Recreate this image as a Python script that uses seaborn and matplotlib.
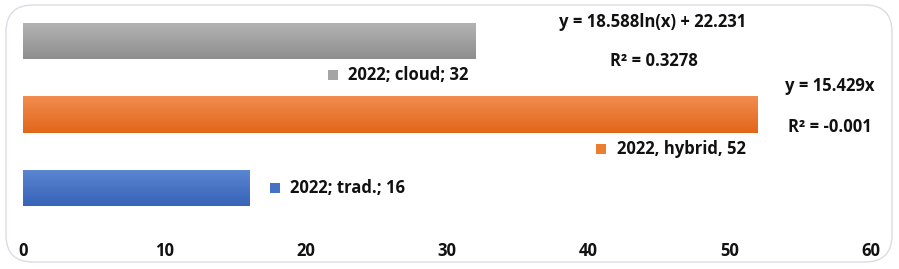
import numpy as np
import pandas as pd
import seaborn as sns
import matplotlib
matplotlib.use("Agg")
import matplotlib.pyplot as plt
from matplotlib.patches import FancyBboxPatch
from matplotlib.colors import LinearSegmentedColormap

categories = ["cloud", "hybrid", "trad."]
values = [32, 52, 16]
labels = ["2022; cloud; 32", "2022, hybrid, 52", "2022; trad.; 16"]
xticks = [0, 10, 20, 30, 40, 50, 60]
trend_texts = ["y = 18.588ln(x) + 22.231", "R² = 0.3278", "y = 15.429x", "R² = -0.001"]

colors = {"cloud": "#a5a5a5", "hybrid": "#ed7d31", "trad.": "#4472c4"}
grad = {"cloud": ("#b4b4b4", "#8e8e8e"),
        "hybrid": ("#f28c4f", "#e2661a"),
        "trad.": ("#5b87d2", "#3863b8")}

sns.set_theme(style="white")
plt.rcParams['font.family'] = ['Open Sans', 'DejaVu Sans']
FS = 12.0

df = pd.DataFrame({"category": categories, "value": values})

fig = plt.figure(figsize=(8.99, 2.69), dpi=100)
W, H = 899, 269
ax = fig.add_axes([23 / W, 1 - 225 / H, 848 / W, 221 / H])

sns.barplot(data=df, x="value", y="category", hue="category", palette=colors,
            order=categories, width=0.49, ax=ax, legend=False, edgecolor="none")

# gradients on bars
for patch, cat in zip(ax.patches, categories):
    x0, y0 = patch.get_x(), patch.get_y()
    w, h = patch.get_width(), patch.get_height()
    cmap = LinearSegmentedColormap.from_list("g", [grad[cat][0], grad[cat][1]])
    g = np.linspace(0, 1, 64).reshape(-1, 1)
    im = ax.imshow(g, cmap=cmap, aspect="auto", extent=[x0, x0 + w, y0 + h, y0],
                   origin="upper", zorder=patch.get_zorder() + 0.1)
    im.set_clip_path(patch)

ax.set_xlim(0, 60)
ax.set_ylim(2.5, -0.5)
ax.set_xticks(xticks)
ax.set_xticklabels([str(t) for t in xticks], fontsize=FS, fontweight="bold", color="#111111")
ax.tick_params(axis="x", length=0, pad=12)
ax.set_yticks([])
ax.set_xlabel("")
ax.set_ylabel("")
for s in ax.spines.values():
    s.set_visible(False)

# data labels: marker x and y offset from the category position
label_pos = {"cloud": (21.9, 0.46), "hybrid": (40.9, 0.47), "trad.": (17.8, 0.0)}
for i, (cat, lab) in enumerate(zip(categories, labels)):
    lx, dy = label_pos[cat]
    ly = i + dy
    ax.scatter([lx], [ly], marker="s", s=45, color=colors[cat], zorder=5, linewidths=0)
    ax.text(lx + 1.1, ly, lab, fontsize=FS, fontweight="bold", color="#111111",
            va="center", ha="left", zorder=5)

# trendline labels
tpos = [(653, 22), (654, 61), (830, 86), (830, 127)]
for t, (px, py) in zip(trend_texts, tpos):
    fig.text(px / W, 1 - py / H, t, fontsize=FS, fontweight="bold", color="#111111",
             ha="center", va="center")

frame = FancyBboxPatch((6 / W, 1 - 262 / H), 886 / W, 257 / H,
                       boxstyle="round,pad=0,rounding_size=0.03",
                       transform=fig.transFigure, fill=False,
                       edgecolor="#d9dde3", linewidth=1.0, mutation_aspect=W / H)
fig.patches.append(frame)

fig.savefig("out.png", dpi=100)
